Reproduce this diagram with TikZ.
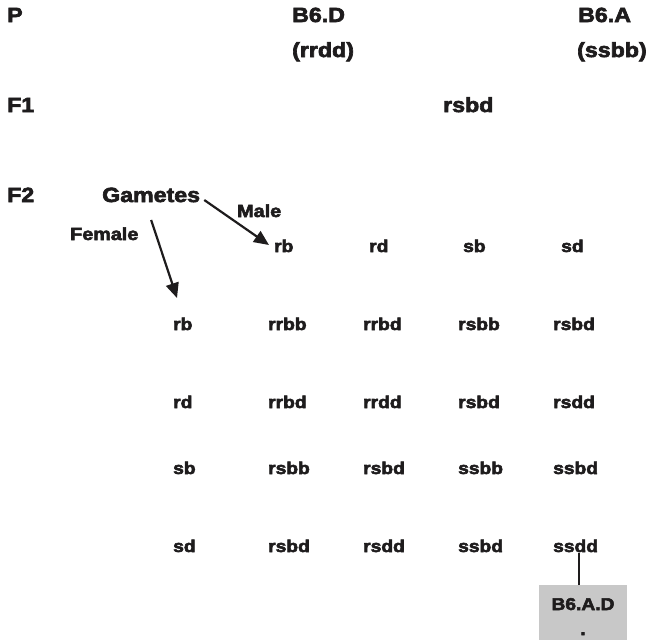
\documentclass[tikz,border=0pt]{standalone}
\usepackage{fontspec}
\setmainfont{Liberation Sans}[BoldFeatures={FakeStretch=1.13,FakeBold=3.2}]
\usetikzlibrary{arrows.meta,calc}
\definecolor{ink}{RGB}{30,28,29}
\definecolor{boxgray}{RGB}{200,200,200}
\begin{document}
\begin{tikzpicture}[x=1pt,y=-1pt,
  every node/.style={inner sep=0pt,text=ink},
  big/.style={font=\bfseries\fontsize{20.5}{24}\selectfont,anchor=base west},
  small/.style={font=\bfseries\fontsize{17}{20}\selectfont,anchor=base west},
  lbl/.style={font=\bfseries\fontsize{17.5}{20}\selectfont,anchor=base west},
  arr/.style={draw=ink,line width=2.2pt,-{Triangle[length=15pt,width=13pt]}},
  link/.style={draw=ink,line width=2.2pt},
  boxst/.style={fill=boxgray,minimum width=88pt,minimum height=55pt,anchor=north west}]
\useasboundingbox (0,0) rectangle (648,640);
% header
\node[big] (P) at (7,22) {P};
\node[big] (pD) at (292,22) {B6.D};
\node[big] (pA) at (578,22) {B6.A};
\node[big] (gD) at (292,57) {(rrdd)};
\node[big] (gA) at (577,57) {(ssbb)};
\node[big] (F1) at (7,112) {F1};
\node[big] (f1) at (443,112) {rsbd};
\node[big] (F2) at (7,202) {F2};
\node[big] (gam) at (102,202) {Gametes};
\node[lbl] (male) at (237,217) {Male};
\node[lbl] (female) at (70,240) {Female};
% male gametes
\node[small] (m1) at (274,252) {rb};
\node[small] (m2) at (369,252) {rd};
\node[small] (m3) at (463,252) {sb};
\node[small] (m4) at (561,252) {sd};
% row 1
\node[small] (f1g) at (173,330) {rb};
\node[small] (g11) at (268,330) {rrbb};
\node[small] (g12) at (363,330) {rrbd};
\node[small] (g13) at (458,330) {rsbb};
\node[small] (g14) at (553,330) {rsbd};
% row 2
\node[small] (f2g) at (173,408) {rd};
\node[small] (g21) at (268,408) {rrbd};
\node[small] (g22) at (363,408) {rrdd};
\node[small] (g23) at (458,408) {rsbd};
\node[small] (g24) at (553,408) {rsdd};
% row 3
\node[small] (f3g) at (173,474) {sb};
\node[small] (g31) at (268,474) {rsbb};
\node[small] (g32) at (363,474) {rsbd};
\node[small] (g33) at (458,474) {ssbb};
\node[small] (g34) at (553,474) {ssbd};
% row 4
\node[small] (f4g) at (173,552) {sd};
\node[small] (g41) at (268,552) {rsbd};
\node[small] (g42) at (363,552) {rsdd};
\node[small] (g43) at (458,552) {ssbd};
\node[small] (g44) at (553,552) {ssdd};
% result box
\node[boxst] (box) at (539,585) {};
\node[small,anchor=base] (boxt1) at (583,610) {B6.A.D};
\node[small,anchor=base] (boxt2) at (583,635) {.};
% arrows
\draw[arr] ($(gam.base east)+(4,-2)$) -- ($(m1.base west)+(-5,-7)$);
\draw[arr] ($(gam.base)+(0,18)$) -- ($(f1g.base west)+(4,-32)$);
\draw[link] ($(box.north)+(-4,0)$) -- ($(box.north)+(-4,-32)$);
\end{tikzpicture}
\end{document}
